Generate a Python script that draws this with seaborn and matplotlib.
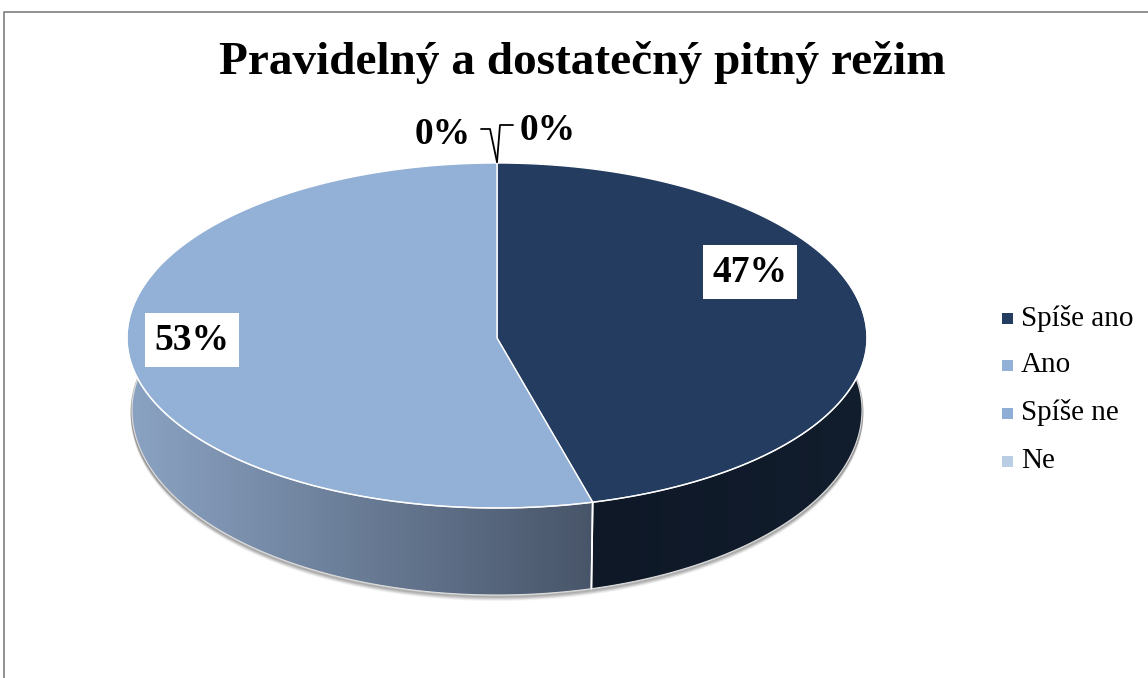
import numpy as np
import matplotlib
matplotlib.use("Agg")
import matplotlib.pyplot as plt
import seaborn as sns
from matplotlib.patches import Polygon, Rectangle
from matplotlib.colors import LinearSegmentedColormap

sns.set_theme(style="white")
plt.rcParams['font.family'] = ['Liberation Serif', 'DejaVu Serif']

# ---- data ----
categories = ["Spíše ano", "Ano", "Spíše ne", "Ne"]
values = [47, 53, 0, 0]
colors = ["#243C5F", "#93B1D6", "#8EAED6", "#B9CDE5"]
side_colors = [("#0E1827", "#121D2D"), ("#8BA3C3", "#485569"),
               ("#8EAED6", "#8EAED6"), ("#B9CDE5", "#B9CDE5")]
title = "Pravidelný a dostatečný pitný režim"

fig = plt.figure(figsize=(11.48, 6.78), dpi=100)
ax = fig.add_axes([0, 0, 1, 1])
ax.set_xlim(0, 1148)
ax.set_ylim(678, 0)
ax.axis('off')

# frame
ax.plot([4, 4, 1148], [678, 11.5, 11.5], color="#888888", lw=1.3, solid_capstyle="butt")

cx = 497
top_geo = dict(cy=338, a=370, bt=175, bb=170)
bot_geo = dict(cy=410, a=365, bt=175, bb=185)
persp = 0.39  # perspective warp of angles


def pt(theta_deg, g):
    t = np.radians(theta_deg)
    t = t - persp * np.sin(t)
    x = cx + g["a"] * np.sin(t)
    c = -np.cos(t)
    y = g["cy"] + np.where(c > 0, g["bb"], g["bt"]) * c
    return x, y


total = sum(values)
bounds = np.concatenate([[0], np.cumsum(values) / total * 360])

# soft shadow under the pie
th = np.linspace(80, 280, 300)
sx, sy = pt(th, bot_geo)
for k, al in zip(range(6, 0, -1), [0.03, 0.05, 0.07, 0.09, 0.11, 0.14]):
    ax.plot(sx + (k * 0.5 if False else 0), sy + k * 0.8, color="black",
            alpha=al, lw=2, zorder=1)
tx, ty = pt(np.linspace(70, 110, 60), top_geo)
bx, by = pt(np.linspace(70, 110, 60), bot_geo)

# sides
for i, v in enumerate(values):
    if v == 0:
        continue
    t1, t2 = bounds[i], bounds[i + 1]
    s1, s2 = max(t1, 90), min(t2, 270)
    if s1 >= s2:
        continue
    th = np.linspace(s1, s2, 300)
    x, y = pt(th, top_geo)
    xb, yb = pt(th, bot_geo)
    xs = np.concatenate([x, xb[::-1]])
    ys = np.concatenate([y, yb[::-1]])
    poly = Polygon(np.column_stack([xs, ys]), closed=True, facecolor="none",
                   edgecolor="none", zorder=2)
    ax.add_patch(poly)
    left, right = side_colors[i]
    cmap = LinearSegmentedColormap.from_list("g%d" % i, [left, right])
    grad = np.linspace(0, 1, 256).reshape(1, -1)
    im = ax.imshow(grad, cmap=cmap, aspect="auto",
                   extent=[xs.min(), xs.max(), ys.max(), ys.min()], zorder=2)
    im.set_clip_path(poly)
    for tb in (t1, t2):
        if 90 < tb < 270:
            ex, ey = pt(tb, top_geo)
            fx, fy = pt(tb, bot_geo)
            ax.plot([ex, fx], [ey, fy], color="white", lw=1.2, zorder=3)

# bottom rim light line
th = np.linspace(92, 268, 300)
bx, by = pt(th, bot_geo)
ax.plot(bx, by, color="#DDDDDD", lw=0.8, zorder=3)

# top faces
for i, v in enumerate(values):
    if v == 0:
        continue
    th = np.linspace(bounds[i], bounds[i + 1], 300)
    x, y = pt(th, top_geo)
    xs = np.concatenate([[cx], x])
    ys = np.concatenate([[top_geo["cy"]], y])
    ax.add_patch(Polygon(np.column_stack([xs, ys]), closed=True,
                         facecolor=colors[i], edgecolor="white", lw=1.0, zorder=4))

# rim highlight on front edge
th = np.linspace(90, 270, 300)
rx, ry = pt(th, top_geo)
ax.plot(rx, ry, color="white", lw=1.0, alpha=0.85, zorder=5)

# labels
lab_font = dict(fontsize=27, fontweight="bold", color="black", zorder=7)
ax.text(750, 272, f"{values[0]}%", ha="center", va="center",
        bbox=dict(boxstyle="square,pad=0.25", fc="white", ec="none"), **lab_font)
ax.text(192, 340, f"{values[1]}%", ha="center", va="center",
        bbox=dict(boxstyle="square,pad=0.25", fc="white", ec="none"), **lab_font)
ax.text(443, 134, f"{values[3]}%", ha="center", va="center", **lab_font)
ax.text(548, 131, f"{values[2]}%", ha="center", va="center", **lab_font)

# leader lines for 0% labels
ax.plot([481, 490, 497], [129, 129, 162], color="black", lw=1.3, zorder=6)
ax.plot([513, 500, 497], [125, 125, 162], color="black", lw=1.3, zorder=6)

# title
ax.text(582, 63, title, ha="center", va="center", fontsize=34, fontweight="bold",
        color="black")

# legend
leg_y = [318, 365, 413, 461]
for c, lab, y in zip(colors, categories, leg_y):
    ax.add_patch(Rectangle((1002, y - 5.5), 11, 11, facecolor=c, edgecolor="none"))
    ax.text(1021, y, lab, ha="left", va="center", fontsize=21, color="black")

fig.savefig("out.png", dpi=100)
